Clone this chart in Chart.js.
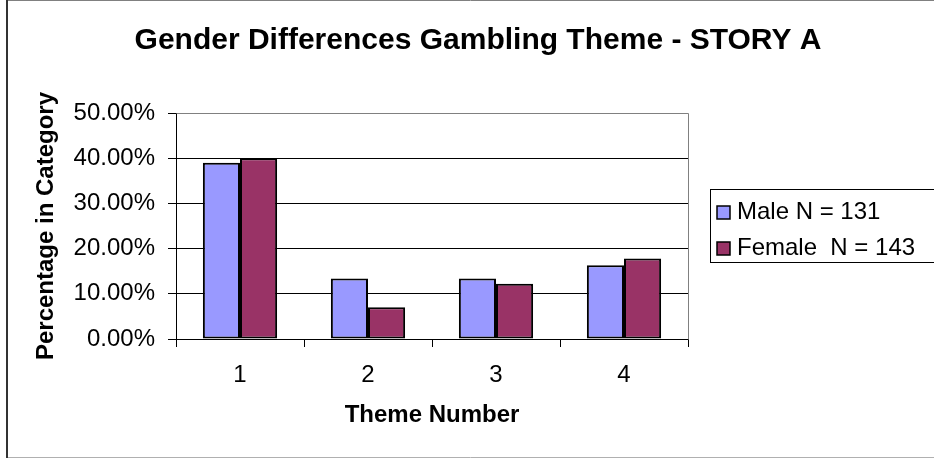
<!DOCTYPE html>
<html>
<head>
<meta charset="utf-8">
<script src="https://cdn.jsdelivr.net/npm/chart.js@4.4.1/dist/chart.umd.min.js"></script>
<style>
  html, body { margin: 0; padding: 0; background: #fff; }
  #wrap { position: relative; width: 934px; height: 459px; }
</style>
</head>
<body>
<div id="wrap"><canvas id="myChart"></canvas></div>
<script>
const themes = ['1', '2', '3', '4'];
const maleValues = [39.0, 13.4, 13.4, 16.3];
const femaleValues = [40.0, 7.0, 12.2, 17.8];
const seriesLabels = ['Male N = 131', 'Female  N = 143'];
const seriesColors = ['#9999FF', '#993366'];
const chartTitle = 'Gender Differences Gambling Theme - STORY A';

const FONT = 'Arial, "Liberation Sans", Helvetica, sans-serif';

// frame round the whole chart, the plot box, the title and the legend box
const framePlugin = {
    id: 'frame',
    beforeDraw(chart) {
        const { ctx } = chart;
        ctx.save();
        ctx.fillStyle = '#fff';
        ctx.fillRect(0, 0, chart.width, chart.height);
        ctx.restore();
    },
    beforeDatasetsDraw(chart) {
        const { ctx, chartArea: a } = chart;
        ctx.save();
        ctx.strokeStyle = '#808080';
        ctx.lineWidth = 1;
        ctx.beginPath();
        ctx.moveTo(Math.round(a.left) + 0.5, Math.round(a.top) + 0.5);
        ctx.lineTo(Math.round(a.right) + 0.5, Math.round(a.top) + 0.5);
        ctx.lineTo(Math.round(a.right) + 0.5, Math.round(a.bottom) + 0.5);
        ctx.stroke();
        ctx.restore();
    },
    afterDraw(chart) {
        const { ctx } = chart;
        ctx.save();
        // outer border
        ctx.strokeStyle = '#808080';
        ctx.lineWidth = 1;
        ctx.beginPath();
        ctx.moveTo(7, 0.5);
        ctx.lineTo(chart.width, 0.5);
        ctx.stroke();
        ctx.strokeStyle = '#b0b0b0';
        ctx.beginPath();
        ctx.moveTo(7, 457.5);
        ctx.lineTo(chart.width, 457.5);
        ctx.stroke();
        ctx.strokeStyle = '#333';
        ctx.lineWidth = 2;
        ctx.beginPath();
        ctx.moveTo(7, 0);
        ctx.lineTo(7, 458);
        ctx.stroke();

        // title, centred on the whole chart
        ctx.fillStyle = '#000';
        ctx.font = 'bold 30px ' + FONT;
        ctx.textAlign = 'center';
        ctx.textBaseline = 'middle';
        ctx.fillText(chartTitle, 478, 41);

        // legend
        const lx = 710.5, ly = 189.5, lh = 73;
        ctx.strokeStyle = '#000';
        ctx.lineWidth = 1;
        ctx.strokeRect(lx, ly, 240, lh);
        ctx.font = '24px ' + FONT;
        ctx.textBaseline = 'middle';
        ctx.textAlign = 'left';
        const rows = [212, 248];
        chart.data.datasets.forEach((ds, i) => {
            const cy = rows[i];
            ctx.fillStyle = ds.backgroundColor;
            ctx.fillRect(717, cy - 6, 13, 13);
            ctx.strokeStyle = '#000';
            ctx.lineWidth = 1.5;
            ctx.strokeRect(717, cy - 6, 13, 13);
            ctx.fillStyle = '#000';
            ctx.fillText(ds.label, 737, cy);
        });
        ctx.restore();
    }
};

const data = {
    labels: themes,
    datasets: [
        {
            label: seriesLabels[0],
            data: maleValues,
            backgroundColor: seriesColors[0],
            borderColor: '#000',
            borderWidth: 2,
            borderSkipped: false
        },
        {
            label: seriesLabels[1],
            data: femaleValues,
            backgroundColor: seriesColors[1],
            borderColor: '#000',
            borderWidth: 2,
            borderSkipped: false
        }
    ]
};

const options = {
    responsive: true,
    maintainAspectRatio: false,
    animation: false,
    layout: {
        padding: { left: 0, right: 246, top: 113, bottom: 0 }
    },
    datasets: {
        bar: {
            categoryPercentage: 0.58,
            barPercentage: 1.0
        }
    },
    scales: {
        x: {
            offset: true,
            afterFit: (scale) => { scale.height = 120; },
            grid: {
                display: true,
                drawOnChartArea: false,
                drawTicks: true,
                tickLength: 8,
                color: '#000',
                offset: true
            },
            border: { display: true, color: '#000', width: 1 },
            ticks: {
                color: '#000',
                padding: 14,
                font: { family: FONT, size: 24 }
            },
            title: {
                display: true,
                text: 'Theme Number',
                color: '#000',
                padding: { top: 0, bottom: 29 },
                font: { family: FONT, size: 24, weight: 'bold' }
            }
        },
        y: {
            min: 0,
            max: 50,
            afterFit: (scale) => { scale.width = 176; },
            grid: {
                color: (c) => (c.tick && c.tick.value === 50 ? '#808080' : '#000'),
                tickColor: '#000',
                tickLength: 8,
                lineWidth: 1
            },
            border: { display: true, color: '#000', width: 1 },
            ticks: {
                stepSize: 10,
                color: '#000',
                padding: 13,
                font: { family: FONT, size: 24 },
                callback: (v) => v.toFixed(2) + '%'
            },
            title: {
                display: true,
                text: 'Percentage in Category',
                color: '#000',
                padding: { top: 32, bottom: 0 },
                font: { family: FONT, size: 24, weight: 'bold' }
            }
        }
    },
    plugins: {
        legend: { display: false },
        tooltip: { enabled: false },
        title: { display: false }
    }
};

const myChart = new Chart(document.getElementById('myChart').getContext('2d'), {
    type: 'bar',
    data: data,
    options: options,
    plugins: [framePlugin]
});
</script>
</body>
</html>
